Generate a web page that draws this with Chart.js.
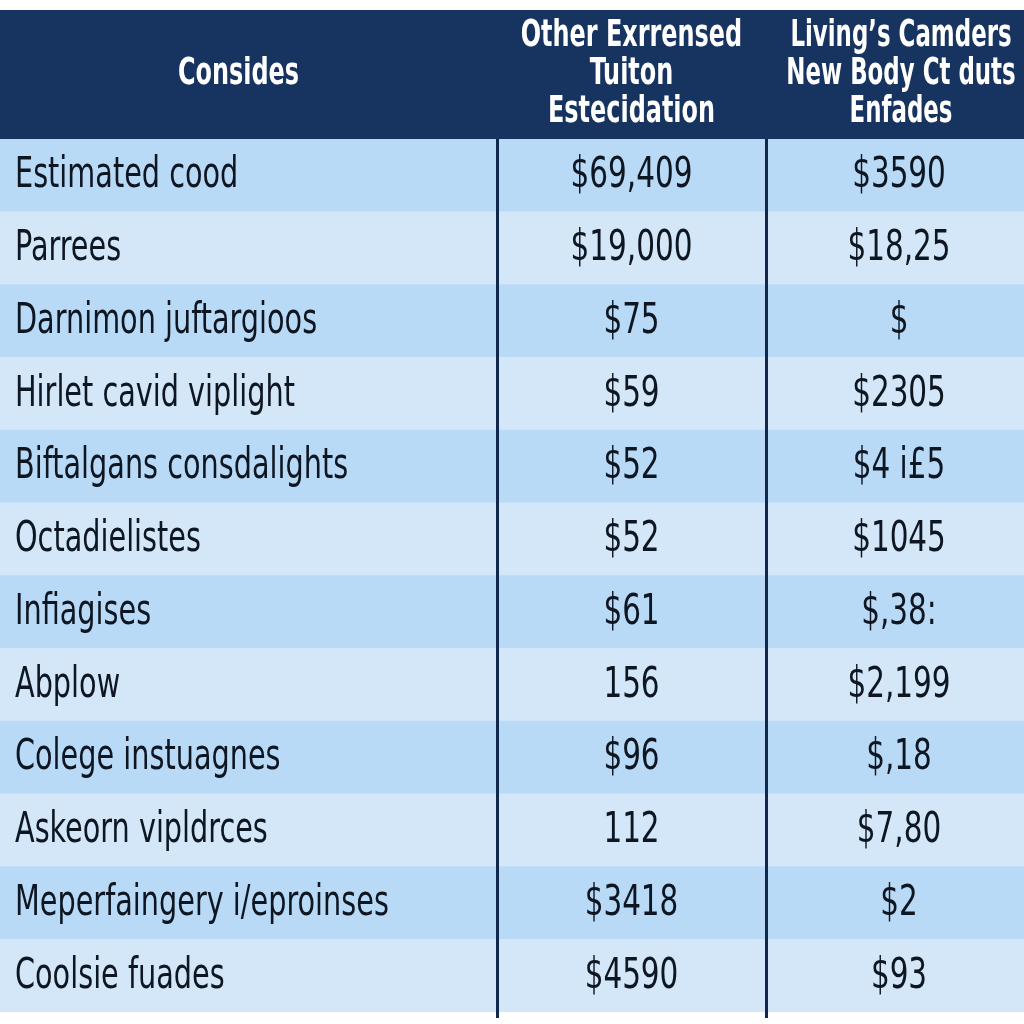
<!DOCTYPE html>
<html>
<head>
<meta charset="utf-8">
<script src="https://cdn.jsdelivr.net/npm/chart.js@4/dist/chart.umd.min.js"></script>
<style>
  html, body { margin: 0; padding: 0; background: #fff; }
  canvas { display: block; }
</style>
</head>
<body>
<canvas id="table" width="1024" height="1024"></canvas>
<script>
// --- data ---
const ROW_LABELS = [
    'Estimated cood', 'Parrees', 'Darnimon juftargioos', 'Hirlet cavid viplight',
    'Biftalgans consdalights', 'Octadielistes', 'Infiagises', 'Abplow',
    'Colege instuagnes', 'Askeorn vipldrces', 'Meperfaingery i/eproinses', 'Coolsie fuades'
];
const TUITION_VALUES = ['$69,409', '$19,000', '$75', '$59', '$52', '$52', '$61', '156', '$96', '112', '$3418', '$4590'];
const LIVING_VALUES = ['$3590', '$18,25', '$', '$2305', '$4 i£5', '$1045', '$,38:', '$2,199', '$,18', '$7,80', '$2', '$93'];
const HEADER_LINES = [
    ['Consides'],
    ['Other Exrrensed', 'Tuiton', 'Estecidation'],
    ['Living\u2019s Camders', 'New Body Ct duts', 'Enfades']
];

// --- layout ---
const COL_EDGES = [0, 497, 766, 1024];
const HEADER_TOP = 10;
const ROW_DARK = '#b9daf6';
const ROW_LIGHT = '#d3e7f8';
const HEADER_BG = '#17335f';
const RULE = '#10284c';
const FONT = "'DejaVu Sans Condensed', 'Liberation Sans Narrow', sans-serif";

const columns = [ROW_LABELS, TUITION_VALUES, LIVING_VALUES];
const rowColors = ROW_LABELS.map((_, i) => (i % 2 === 0 ? ROW_DARK : ROW_LIGHT));

const datasets = columns.map((col, c) => ({
    label: 'col' + c,
    data: col.map(() => [COL_EDGES[c], COL_EDGES[c + 1]]),
    backgroundColor: rowColors,
    borderWidth: 0,
    barPercentage: 1,
    categoryPercentage: 1,
    grouped: false
}));

// squeezed text, the reference uses a very narrow face
function narrowText(ctx, text, x, y, align, sx) {
    ctx.save();
    ctx.translate(x, y);
    ctx.scale(sx, 1);
    ctx.textAlign = align;
    ctx.fillText(text, 0, 0);
    ctx.restore();
}

const tablePlugin = {
    id: 'tablePlugin',
    beforeDatasetsDraw(chart) {
        const { ctx, chartArea } = chart;
        ctx.save();
        ctx.fillStyle = HEADER_BG;
        ctx.fillRect(0, HEADER_TOP, chart.width, chartArea.top - HEADER_TOP + 1);
        ctx.restore();
    },
    afterDatasetsDraw(chart) {
        const { ctx, chartArea } = chart;
        const xs = chart.scales.x;
        ctx.save();

        // cell texts
        ctx.fillStyle = '#0e1622';
        ctx.textBaseline = 'middle';
        ctx.font = '42px ' + FONT;
        chart.data.datasets.forEach((ds, c) => {
            const meta = chart.getDatasetMeta(c);
            meta.data.forEach((bar, r) => {
                const { x, y, base } = bar.getProps(['x', 'y', 'base'], true);
                const text = columns[c][r];
                if (c === 0) {
                    narrowText(ctx, text, Math.min(x, base) + 15, y + 1, 'left', 0.76);
                } else {
                    narrowText(ctx, text, (x + base) / 2 + (c === 2 ? 4 : 0), y + 1, 'center', 0.78);
                }
            });
        });

        // header texts
        ctx.fillStyle = '#ffffff';
        ctx.font = 'bold 38px ' + FONT;
        const mid = (HEADER_TOP + chartArea.top) / 2;
        HEADER_LINES.forEach((lines, c) => {
            const cx = (xs.getPixelForValue(COL_EDGES[c]) + xs.getPixelForValue(COL_EDGES[c + 1])) / 2;
            const step = 38;
            lines.forEach((line, i) => {
                const y = mid + (i - (lines.length - 1) / 2) * step;
                narrowText(ctx, line, cx + (c === 0 ? -10 : (c === 2 ? 6 : 0)), y, 'center', c === 2 ? 0.67 : 0.7);
            });
        });

        // column rules
        ctx.strokeStyle = RULE;
        ctx.lineWidth = 3;
        [COL_EDGES[1], COL_EDGES[2]].forEach(v => {
            const px = Math.round(xs.getPixelForValue(v)) + 0.5;
            ctx.beginPath();
            ctx.moveTo(px, chartArea.top);
            ctx.lineTo(px, chartArea.bottom + 6);
            ctx.stroke();
        });
        ctx.restore();
    }
};

new Chart(document.getElementById('table'), {
    type: 'bar',
    data: { labels: ROW_LABELS, datasets: datasets },
    options: {
        indexAxis: 'y',
        responsive: false,
        animation: false,
        devicePixelRatio: 1,
        layout: { padding: { top: 139, bottom: 12, left: 0, right: 0 } },
        plugins: { legend: { display: false }, tooltip: { enabled: false } },
        scales: {
            x: { type: 'linear', min: 0, max: 1024, display: false },
            y: { type: 'category', display: false }
        }
    },
    plugins: [tablePlugin]
});
</script>
</body>
</html>
